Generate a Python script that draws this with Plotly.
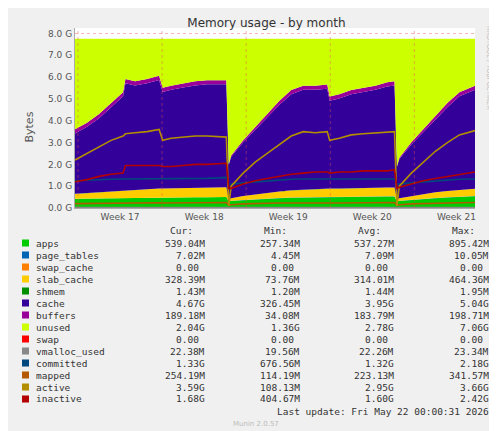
import plotly.graph_objects as go

# time in days since start of graph
days = [0, 1, 2, 3, 4, 4.2, 5, 6, 7, 7.3, 8, 9, 10, 11, 12, 12.6, 12.8, 13, 14, 15, 16, 17, 18, 19, 20, 21,
        21.2, 22, 23, 24, 25, 26, 26.6, 26.8, 27, 28, 29, 30, 31, 32, 33.3]

# values in GB
apps = [0.42, 0.43, 0.44, 0.45, 0.45, 0.46, 0.46, 0.47, 0.47, 0.47, 0.48, 0.48, 0.49, 0.49, 0.5, 0.5, 0.3, 0.32,
        0.36, 0.4, 0.43, 0.45, 0.47, 0.48, 0.5, 0.5, 0.5, 0.5, 0.51, 0.52, 0.52, 0.53, 0.53, 0.3, 0.32, 0.37, 0.41,
        0.45, 0.48, 0.51, 0.54]
page_tables = [0.007] * 41
swap_cache = [0.0] * 41
slab_cache = [0.22, 0.25, 0.28, 0.3, 0.32, 0.33, 0.38, 0.4, 0.42, 0.42, 0.42, 0.43, 0.43, 0.44, 0.44, 0.44, 0.1,
              0.12, 0.18, 0.22, 0.26, 0.3, 0.33, 0.35, 0.37, 0.38, 0.38, 0.38, 0.39, 0.4, 0.4, 0.4, 0.4, 0.1, 0.12,
              0.17, 0.22, 0.26, 0.29, 0.31, 0.33]
shmem = [0.0014] * 41
cache = [2.77, 3.03, 3.39, 3.86, 4.34, 4.92, 4.77, 4.84, 4.97, 4.42, 4.51, 4.6, 4.69, 4.73, 4.72, 4.72, 1.57, 1.9,
         2.46, 2.94, 3.44, 3.96, 4.41, 4.58, 4.54, 4.58, 4.03, 4.13, 4.31, 4.39, 4.49, 4.63, 4.68, 1.47, 1.8, 2.36,
         2.83, 3.32, 3.84, 4.29, 4.54]
buffers = [0.19] * 16 + [0.03, 0.06, 0.1, 0.14, 0.17] + [0.19] * 12 + [0.03, 0.06, 0.1, 0.14, 0.17] + [0.19] * 3
unused = [4.15, 3.85, 3.45, 2.95, 2.45, 1.85, 1.95, 1.85, 1.7, 2.25, 2.15, 2.05, 1.95, 1.9, 1.9, 1.9, 5.75, 5.35,
          4.65, 4.05, 3.45, 2.85, 2.35, 2.15, 2.15, 2.1, 2.65, 2.55, 2.35, 2.25, 2.15, 2.0, 1.95, 5.85, 5.45, 4.75,
          4.15, 3.55, 2.95, 2.45, 2.15]
swap = [0.0] * 41

vmalloc_used = [0.022] * 41
committed = [1.25, 1.28, 1.3, 1.32, 1.33, 1.33, 1.33, 1.34, 1.35, 1.33, 1.33, 1.34, 1.35, 1.36, 1.38, 1.4, 1.1,
             1.1, 1.15, 1.2, 1.25, 1.3, 1.32, 1.33, 1.33, 1.33, 1.3, 1.3, 1.31, 1.32, 1.32, 1.33, 1.33, 1.1, 1.1,
             1.15, 1.2, 1.25, 1.3, 1.32, 1.33]
mapped = [0.2, 0.21, 0.22, 0.22, 0.23, 0.23, 0.23, 0.24, 0.24, 0.23, 0.23, 0.24, 0.24, 0.25, 0.25, 0.25, 0.12,
          0.15, 0.19, 0.21, 0.22, 0.23, 0.23, 0.24, 0.24, 0.24, 0.23, 0.23, 0.24, 0.24, 0.25, 0.25, 0.25, 0.12,
          0.15, 0.19, 0.21, 0.22, 0.23, 0.24, 0.25]
active = [2.2, 2.5, 2.8, 3.1, 3.3, 3.4, 3.45, 3.5, 3.6, 3.1, 3.2, 3.25, 3.3, 3.3, 3.25, 3.25, 0.1, 1.0, 1.6, 2.1,
          2.5, 2.9, 3.3, 3.5, 3.45, 3.5, 3.1, 3.2, 3.35, 3.4, 3.45, 3.5, 3.5, 0.1, 1.0, 1.6, 2.1, 2.6, 3.0, 3.35,
          3.55]
inactive = [1.2, 1.3, 1.45, 1.55, 1.6, 1.95, 1.95, 1.95, 1.95, 1.9, 1.9, 1.95, 2.0, 2.0, 2.05, 2.05, 0.9, 0.9,
            1.1, 1.25, 1.35, 1.45, 1.55, 1.6, 1.65, 1.65, 1.6, 1.65, 1.65, 1.7, 1.7, 1.7, 1.75, 0.9, 0.95, 1.1,
            1.25, 1.35, 1.45, 1.55, 1.65]

week_pos = [3.75, 10.75, 17.75, 24.75, 31.75]
week_labels = ["Week 17", "Week 18", "Week 19", "Week 20", "Week 21"]
week_bounds = [0.25, 7.25, 14.25, 21.25, 28.25]
y_ticks = [0, 1, 2, 3, 4, 5, 6, 7, 8]
y_labels = ["%.1f G" % v for v in y_ticks]

names = ["apps", "page_tables", "swap_cache", "slab_cache", "shmem", "cache", "buffers", "unused", "swap",
         "vmalloc_used", "committed", "mapped", "active", "inactive"]
colors = ["#00CC00", "#0066B3", "#FF8000", "#FFCC00", "#008F00", "#330099", "#990099", "#CCFF00", "#FF0000",
          "#888888", "#00487D", "#B35A00", "#B38F00", "#B30000"]
cur = ["539.04M", "7.02M", "0.00 ", "328.39M", "1.43M", "4.67G", "189.18M", "2.04G", "0.00 ", "22.38M", "1.33G",
       "254.19M", "3.59G", "1.68G"]
mins = ["257.34M", "4.45M", "0.00 ", "73.76M", "1.20M", "326.45M", "34.08M", "1.36G", "0.00 ", "19.56M",
        "676.56M", "114.19M", "108.13M", "404.67M"]
avgs = ["537.27M", "7.09M", "0.00 ", "314.01M", "1.44M", "3.95G", "183.79M", "2.78G", "0.00 ", "22.26M", "1.32G",
        "223.13M", "2.95G", "1.60G"]
maxs = ["895.42M", "10.05M", "0.00 ", "464.36M", "1.95M", "5.04G", "198.71M", "7.06G", "0.00 ", "23.34M",
        "2.18G", "341.57M", "3.66G", "2.42G"]

stacked = [apps, page_tables, swap_cache, slab_cache, shmem, cache, buffers, unused, swap]
lines = [vmalloc_used, committed, mapped, active, inactive]

fig = go.Figure()
for i, s in enumerate(stacked):
    fig.add_trace(go.Scatter(x=days, y=s, stackgroup="mem", mode="lines", line=dict(width=0, color=colors[i]),
                             fillcolor=colors[i], name=names[i], showlegend=False, hoverinfo="skip"))
for j, s in enumerate(lines):
    fig.add_trace(go.Scatter(x=days, y=s, mode="lines", line=dict(width=1.6, color=colors[9 + j]),
                             name=names[9 + j], showlegend=False))

W, H = 497, 431
L, R, T, B = 67, 467, 20, 200


def px(x):
    return (x - L) / (R - L)


def py(y):
    return (B - y) / (B - T)


mono = dict(family="DejaVu Sans Mono", size=9.5, color="#333333")
ann = []
shapes = []
for v in week_bounds:
    shapes.append(dict(type="line", xref="x", yref="paper", x0=v, x1=v, y0=0, y1=1,
                       line=dict(color="rgba(230,80,80,0.45)", width=1, dash="dot")))
for k, h in enumerate(["Cur:", "Min:", "Avg:", "Max:"]):
    ann.append(dict(x=px([187, 281, 375, 469][k]), y=py(222), text=h, xanchor="right", font=mono))
for i, n in enumerate(names):
    yy = py(235 + i * 12)
    shapes.append(dict(type="rect", xref="paper", yref="paper", x0=px(14), x1=px(21), y0=yy - 3.5 / (B - T),
                       y1=yy + 3.5 / (B - T), fillcolor=colors[i], line=dict(width=0)))
    ann.append(dict(x=px(26), y=yy, text=n, xanchor="left", font=mono))
    for k, col in enumerate([cur, mins, avgs, maxs]):
        ann.append(dict(x=px([199, 294, 388, 483][k]), y=yy, text=col[i], xanchor="right", font=mono))
ann.append(dict(x=px(483), y=py(403), text="Last update: Fri May 22 00:00:31 2026", xanchor="right", font=mono))
ann.append(dict(x=px(248), y=py(416), text="Munin 2.0.57", font=dict(family="DejaVu Sans", size=7, color="#BBBBBB")))
ann.append(dict(x=px(487), y=py(60), text="RRDTOOL / TOBI OETIKER", textangle=90,
                font=dict(family="DejaVu Sans", size=6.5, color="#BBBBBB")))
ann.append(dict(x=px(12), y=0.45, text="Bytes", textangle=-90, font=dict(family="DejaVu Sans", size=11, color="#555555")))
for a in ann:
    a.update(xref="paper", yref="paper", showarrow=False, yanchor="middle")

fig.update_layout(
    width=W, height=H, margin=dict(l=L, r=W - R, t=T, b=H - B),
    paper_bgcolor="#F0F0F0", plot_bgcolor="#FFFFFF",
    title=dict(text="Memory usage - by month", x=0.52, y=0.975, xanchor="center",
               font=dict(family="DejaVu Sans", size=12, color="#333333")),
    annotations=ann, shapes=shapes, hovermode=False,
)
fig.update_xaxes(range=[0, 33.3], tickvals=week_pos, ticktext=week_labels, showgrid=False, zeroline=False,
                 tickfont=dict(family="DejaVu Sans", size=9, color="#555555"), showline=True, linecolor="#AAAAAA")
fig.update_yaxes(range=[0, 8.25], tickvals=y_ticks, ticktext=y_labels, showgrid=True, gridcolor="rgba(230,80,80,0.4)",
                 griddash="dot", zeroline=False, tickfont=dict(family="DejaVu Sans", size=9, color="#555555"),
                 showline=True, linecolor="#AAAAAA", ticks="")

fig.write_html("out.html")
